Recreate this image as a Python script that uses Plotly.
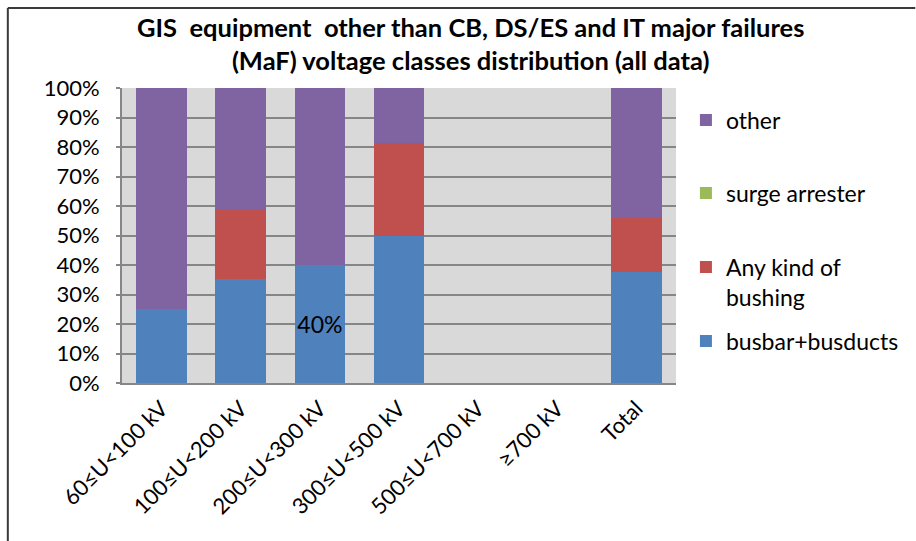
import plotly.graph_objects as go

# Voltage classes and per-category shares (%) of major failures
categories = ["60≤U<100 kV", "100≤U<200 kV", "200≤U<300 kV", "300≤U<500 kV",
              "500≤U<700 kV", "≥700 kV", "Total"]
busbar = [25.0, 35.3, 40.0, 50.0, 0, 0, 37.7]
bushing = [0, 23.5, 0, 31.25, 0, 0, 18.1]
surge = [0, 0, 0, 0, 0, 0, 0]
other = [75.0, 41.2, 60.0, 18.75, 0, 0, 44.2]
y_ticks = [0, 10, 20, 30, 40, 50, 60, 70, 80, 90, 100]
y_tick_text = [f"{v}%" for v in y_ticks]

# the value shown as a label on the 200≤U<300 kV busbar segment
busbar_labels = ["", "", f"{busbar[2]:.0f}%", "", "", "", ""]

W, H = 916, 541
ML, MR, MT, MB = 122, 236, 88, 158
PW, PH = W - ML - MR, H - MT - MB

def px_x(x):
    return (x - ML) / PW

def px_y(y):
    return (H - MB - y) / PH

FONT = "Lato"
colors = {"busbar": "#4f81bd", "bushing": "#c0504d", "surge": "#9bbb59", "other": "#8064a2"}

fig = go.Figure()
fig.add_trace(go.Bar(x=categories, y=busbar, name="busbar+busducts",
                     marker=dict(color=colors["busbar"], line=dict(width=0)),
                     text=busbar_labels, textposition="inside", insidetextanchor="middle",
                     textangle=0, constraintext="none",
                     textfont=dict(family=FONT, size=23, color="#000000"),
                     legend="legend4"))
fig.add_trace(go.Bar(x=categories, y=bushing, name="Any kind of<br>bushing",
                     marker=dict(color=colors["bushing"], line=dict(width=0)),
                     legend="legend3"))
fig.add_trace(go.Bar(x=categories, y=surge, name="surge arrester",
                     marker=dict(color=colors["surge"], line=dict(width=0)),
                     legend="legend2"))
fig.add_trace(go.Bar(x=categories, y=other, name="other",
                     marker=dict(color=colors["other"], line=dict(width=0)),
                     legend="legend"))

leg_common = dict(xanchor="left", yanchor="middle", bgcolor="rgba(0,0,0,0)",
                  font=dict(family=FONT, size=23, color="#000000"), valign="top",
                  itemwidth=30)
lx = px_x(690)

shapes = [
    # outer chart frame (top and left edges)
    dict(type="line", xref="paper", yref="paper", x0=px_x(7), x1=px_x(W + 5),
         y0=px_y(8), y1=px_y(8), line=dict(color="#3a3a3a", width=2)),
    dict(type="line", xref="paper", yref="paper", x0=px_x(7), x1=px_x(7),
         y0=px_y(8), y1=px_y(H + 5), line=dict(color="#3a3a3a", width=2)),
]

title_text = ("<b>GIS  equipment  other than CB, DS/ES and IT major failures</b><br>"
              "<b>(MaF) voltage classes distribution (all data)</b>")

fig.update_layout(
    width=W, height=H,
    margin=dict(l=ML, r=MR, t=MT, b=MB, pad=0),
    paper_bgcolor="#ffffff", plot_bgcolor="#d9d9d9",
    barmode="stack", bargap=0.36,
    font=dict(family=FONT, color="#000000"),
    annotations=[dict(text=title_text, xref="paper", yref="paper",
                      x=px_x(473), y=px_y(10), xanchor="center", yanchor="top",
                      showarrow=False, align="center",
                      font=dict(family=FONT, size=25.5, color="#000000"))],
    xaxis=dict(type="category", tickangle=-45, tickfont=dict(family=FONT, size=22, color="#000000"),
               showgrid=False, showline=True, linecolor="#868686", linewidth=2,
               ticks="", ticklabelstandoff=2),
    yaxis=dict(range=[0, 100], tickvals=y_ticks, ticktext=y_tick_text,
               tickfont=dict(family=FONT, size=22, color="#000000"),
               showgrid=True, gridcolor="#868686", gridwidth=2,
               showline=True, linecolor="#868686", linewidth=2,
               ticks="outside", ticklen=4, tickcolor="#868686", tickwidth=2,
               ticklabelstandoff=12, zeroline=False),
    legend=dict(x=lx, y=px_y(120), **leg_common),
    legend2=dict(x=lx, y=px_y(193), **leg_common),
    legend3=dict(x=lx, y=px_y(282), **leg_common),
    legend4=dict(x=lx, y=px_y(341), **leg_common),
    shapes=shapes,
    showlegend=True,
)

fig.write_html("out.html")
